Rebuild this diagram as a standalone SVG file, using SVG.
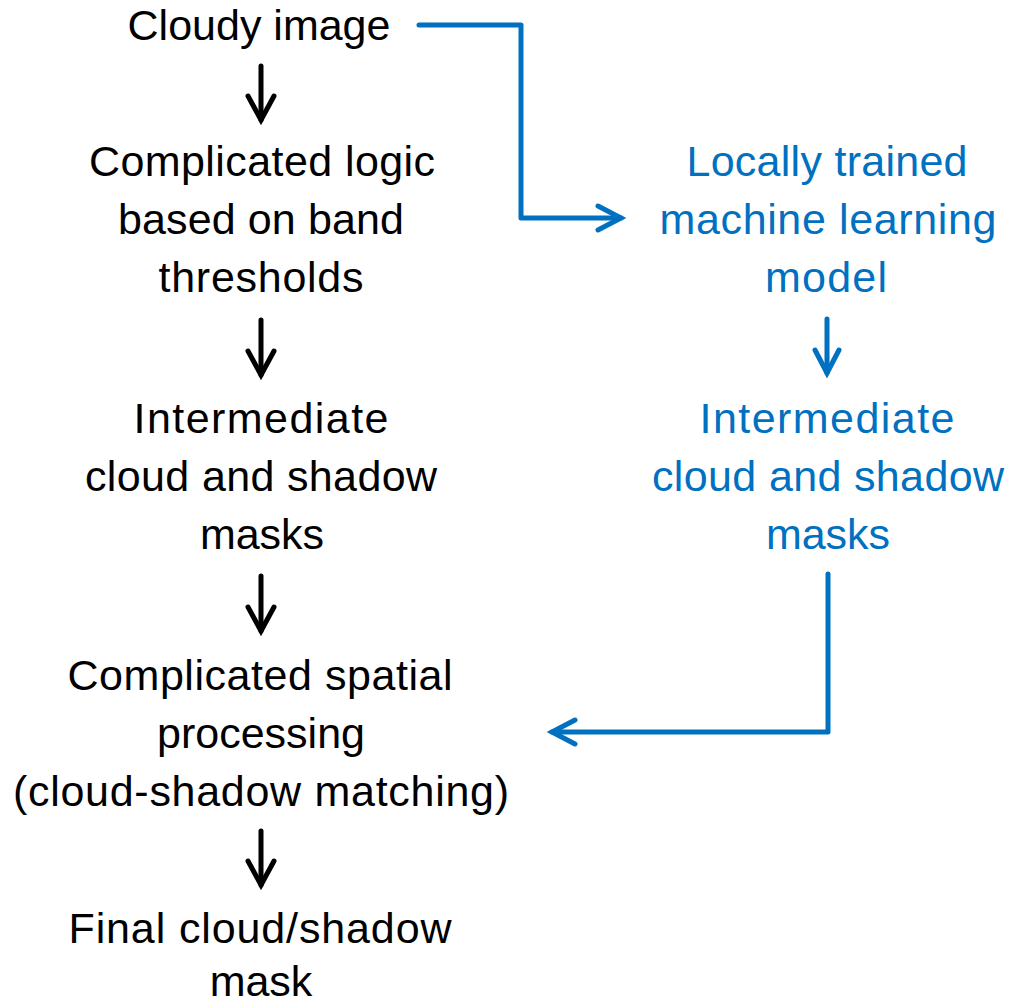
<svg xmlns="http://www.w3.org/2000/svg" width="1009" height="1006" viewBox="0 0 1009 1006">
<style>
text{font-family:"Liberation Sans",Arial,sans-serif;font-size:43px;text-anchor:middle}
.k{fill:#000}
.b{fill:#0070C0}
.ck{fill:none;stroke:#000;stroke-width:5;stroke-linecap:round;stroke-linejoin:round}
.cb{fill:none;stroke:#0070C0;stroke-width:5;stroke-linecap:round;stroke-linejoin:round}
</style>
<defs>
<marker id="ak" markerUnits="userSpaceOnUse" orient="auto" markerWidth="40" markerHeight="40" refX="0" refY="0" viewBox="-30 -20 40 40" overflow="visible">
<path d="M-24,-13 L0,0 L-24,13" fill="none" stroke="#000" stroke-width="5" stroke-linecap="round" stroke-linejoin="miter"/>
</marker>
<marker id="ab" markerUnits="userSpaceOnUse" orient="auto" markerWidth="40" markerHeight="40" refX="0" refY="0" viewBox="-30 -20 40 40" overflow="visible">
<path d="M-23,-12 L0,0 L-23,12" fill="none" stroke="#0070C0" stroke-width="5" stroke-linecap="round" stroke-linejoin="miter"/>
</marker>
</defs>
<rect width="1009" height="1006" fill="#fff"/>
<g id="n1"><text class="k" x="259" y="40">Cloudy image</text></g>
<g id="n2"><text class="k" x="262" y="176" textLength="346" lengthAdjust="spacing">Complicated logic</text><text class="k" x="261" y="234" textLength="286" lengthAdjust="spacing">based on band</text><text class="k" x="261" y="292" textLength="205" lengthAdjust="spacing">thresholds</text></g>
<g id="n3"><text class="k" x="261" y="433" textLength="255" lengthAdjust="spacing">Intermediate</text><text class="k" x="261" y="491" textLength="352" lengthAdjust="spacing">cloud and shadow</text><text class="k" x="262" y="549">masks</text></g>
<g id="n4"><text class="k" x="260" y="690" textLength="385" lengthAdjust="spacing">Complicated spatial</text><text class="k" x="261" y="748">processing</text><text class="k" x="261" y="806" textLength="496" lengthAdjust="spacing">(cloud-shadow matching)</text></g>
<g id="n5"><text class="k" x="260" y="943" textLength="383" lengthAdjust="spacing">Final cloud/shadow</text><text class="k" x="261" y="996">mask</text></g>
<g id="n6"><text class="b" x="827" y="176" textLength="281" lengthAdjust="spacing">Locally trained</text><text class="b" x="828" y="234" textLength="337" lengthAdjust="spacing">machine learning</text><text class="b" x="826" y="292" textLength="122" lengthAdjust="spacing">model</text></g>
<g id="n7"><text class="b" x="827" y="433" textLength="255" lengthAdjust="spacing">Intermediate</text><text class="b" x="828" y="491" textLength="352" lengthAdjust="spacing">cloud and shadow</text><text class="b" x="828" y="549">masks</text></g>
<g id="connectors">
<path class="ck" d="M261,66 V120" marker-end="url(#ak)"/>
<path class="ck" d="M261,320 V375" marker-end="url(#ak)"/>
<path class="ck" d="M261,576 V631" marker-end="url(#ak)"/>
<path class="ck" d="M261,831 V885" marker-end="url(#ak)"/>
<path class="cb" d="M419,25 H521 V218 H621" marker-end="url(#ab)"/>
<path class="cb" d="M827,319 V373" marker-end="url(#ab)"/>
<path class="cb" d="M828,574 V732 H552" marker-end="url(#ab)"/>
</g>
</svg>
